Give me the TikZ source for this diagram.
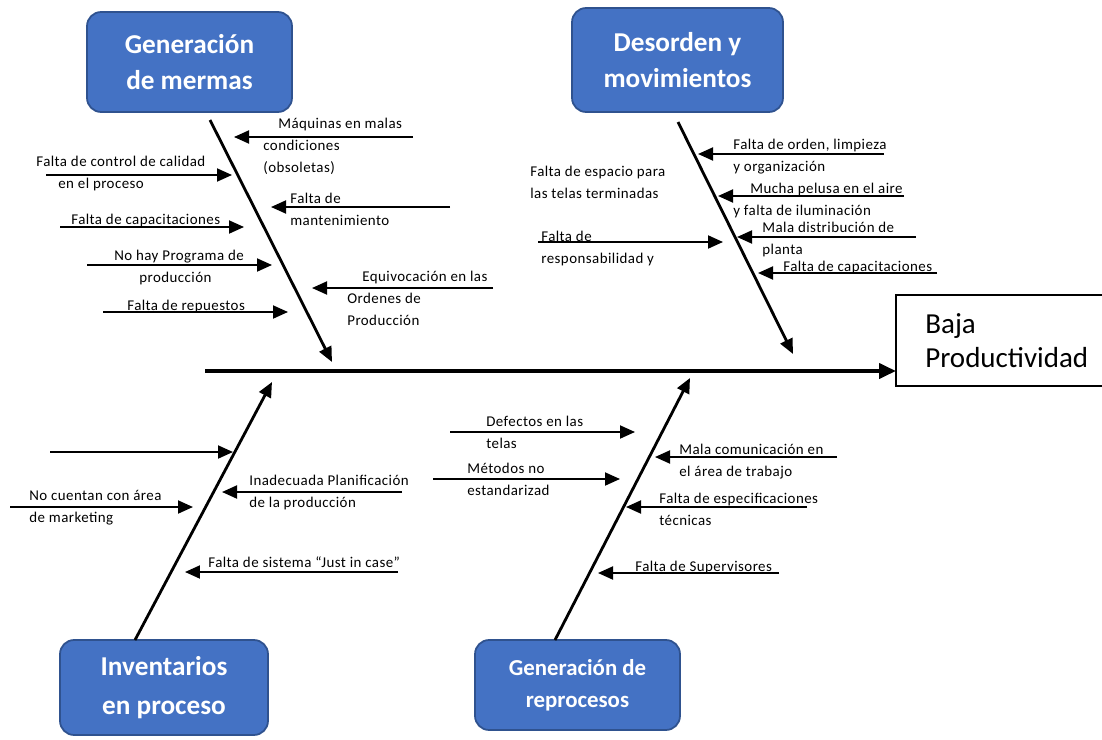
\documentclass[tikz,border=0pt]{standalone}
\usepackage{fontspec}
\setmainfont{Carlito}
\usepackage{tikz}
\usetikzlibrary{arrows.meta,positioning,calc}
\definecolor{catblue}{HTML}{4472C4}
\definecolor{catedge}{HTML}{2F528F}

\begin{document}
\begin{tikzpicture}[
  x=0.02cm, y=-0.02cm,
  catbox/.style={draw=catedge, line width=1pt, fill=catblue, rounded corners=8pt, text=white, align=center, font=\fontsize{15.5}{21}\selectfont\bfseries},
  lbl/.style={anchor=north west, inner sep=0pt, align=left, font=\fontsize{8.5}{12.5}\selectfont\addfontfeature{LetterSpace=3}},
  spine/.style={-{Triangle[length=3.4mm,width=3mm]}, line width=2.2pt},
  bone/.style={-{Triangle[length=3mm,width=2.6mm]}, line width=1.6pt},
  arrow/.style={-{Triangle[length=3mm,width=2.6mm]}, line width=1.1pt}
]
\useasboundingbox (0,0) rectangle (1102,740);
\fill[white] (0,0) rectangle (1102,740);
\node[catbox, minimum width=4.1cm, minimum height=2cm] (mermas) at (189.5,62) {Generación\\de mermas};
\node[catbox, minimum width=4.22cm, minimum height=2.08cm, font=\fontsize{15.5}{20}\selectfont\bfseries] (desorden) at (677.5,60) {Desorden y\\movimientos};
\node[catbox, minimum width=4.16cm, minimum height=1.9cm, font=\fontsize{15.5}{22.5}\selectfont\bfseries] (invent) at (164,687.5) {Inventarios\\en proceso};
\node[catbox, minimum width=4.1cm, minimum height=1.8cm, font=\fontsize{13}{18}\selectfont\bfseries] (reproc) at (577.5,685) {Generación de\\reprocesos};
\node[anchor=north west, minimum height=1.82cm, text width=3.8cm, inner xsep=0.58cm, inner ysep=0pt, align=left, font=\fontsize{16.5}{19.5}\selectfont] (res) at (896,295) {Baja\\Productividad};
\coordinate (rtop) at (1102,295);
\coordinate (rbot) at (1102,386);
\draw[line width=1pt] (rtop) -- (rtop -| res.west) -- (rbot -| res.west) -- (rbot);

\coordinate (sp) at (205,371);
\draw[spine] (sp) -- (sp -| res.west);
\coordinate (b1s) at (210,120); \coordinate (b1e) at (332,362);
\coordinate (b2s) at (678,122); \coordinate (b2e) at (793,354);
\coordinate (b3s) at (135,640); \coordinate (b3e) at (272,382);
\coordinate (b4s) at (555,640); \coordinate (b4e) at (690,378);
\draw[bone] (b1s) -- (b1e);
\draw[bone] (b2s) -- (b2e);
\draw[bone] (b3s) -- (b3e);
\draw[bone] (b4s) -- (b4e);

\node[lbl] (mq) at (263,118) {\hspace*{0.3cm}Máquinas en malas\\condiciones\\(obsoletas)};
\node[lbl] (ctrl) at (36,156) {Falta de control de calidad\\\hspace*{0.44cm}en el proceso};
\node[lbl] (cap) at (71,214) {Falta de capacitaciones};
\node[lbl] (mant) at (290,193) {Falta de\\mantenimiento};
\node[lbl] (prog) at (114,250) {No hay Programa de\\\hspace*{0.5cm}producción};
\node[lbl] (equiv) at (347,271) {\hspace*{0.3cm}Equivocación en las\\Ordenes de\\Producción};
\node[lbl] (rep) at (127,300) {Falta de repuestos};
\coordinate (mqs) at (413,137); \coordinate (mqe) at (234,137);
\coordinate (ctrls) at (46,175); \coordinate (ctrle) at (232,175);
\coordinate (caps) at (60,227); \coordinate (cape) at (244,227);
\coordinate (mants) at (450,207); \coordinate (mante) at (271,207);
\coordinate (progs) at (87,265); \coordinate (proge) at (272,265);
\coordinate (equivs) at (493,288); \coordinate (equive) at (312,288);
\coordinate (reps) at (103,312); \coordinate (repe) at (288,312);
\draw[arrow] (mqs) -- (mqe);
\draw[arrow] (ctrls) -- (ctrle);
\draw[arrow] (caps) -- (cape);
\draw[arrow] (mants) -- (mante);
\draw[arrow] (progs) -- (proge);
\draw[arrow] (equivs) -- (equive);
\draw[arrow] (reps) -- (repe);

\node[lbl] (orden) at (733,139) {Falta de orden, limpieza\\y organización};
\node[lbl] (espacio) at (530,166) {Falta de espacio para\\las telas terminadas};
\node[lbl] (pelusa) at (733,183) {\hspace*{0.34cm}Mucha pelusa en el aire\\y falta de iluminación};
\node[lbl] (distrib) at (762,222) {Mala distribución de\\planta};
\node[lbl] (resp) at (541,231) {Falta de\\responsabilidad y};
\node[lbl] (cap2) at (783,261) {Falta de capacitaciones};
\coordinate (ordens) at (884,154); \coordinate (ordene) at (698,154);
\coordinate (pelusas) at (904,196); \coordinate (pelusae) at (718,196);
\coordinate (distribs) at (916,237); \coordinate (distribe) at (737,237);
\coordinate (resps) at (538,242); \coordinate (respe) at (723,242);
\coordinate (cap2s) at (937,273); \coordinate (cap2e) at (758,273);
\draw[arrow] (ordens) -- (ordene);
\draw[arrow] (pelusas) -- (pelusae);
\draw[arrow] (distribs) -- (distribe);
\draw[arrow] (resps) -- (respe);
\draw[arrow] (cap2s) -- (cap2e);

\node[lbl] (mkt) at (29,490) {No cuentan con área\\de marketing};
\node[lbl] (plan) at (249,475) {Inadecuada Planificación\\de la producción};
\node[lbl] (jic) at (208,556) {Falta de sistema ``Just in case''};
\coordinate (nones) at (50,452); \coordinate (nonee) at (233,452);
\coordinate (mkts) at (10,507); \coordinate (mkte) at (193,507);
\coordinate (plans) at (402,492); \coordinate (plane) at (222,492);
\coordinate (jics) at (398,572); \coordinate (jice) at (185,572);
\draw[arrow] (nones) -- (nonee);
\draw[arrow] (mkts) -- (mkte);
\draw[arrow] (plans) -- (plane);
\draw[arrow] (jics) -- (jice);

\node[lbl] (def) at (486,416) {Defectos en las\\telas};
\node[lbl] (met) at (467,463) {Métodos no\\estandarizad};
\node[lbl] (com) at (679,444) {Mala comunicación en\\el área de trabajo};
\node[lbl] (espec) at (659,493) {Falta de especificaciones\\técnicas};
\node[lbl] (sup) at (635,561) {Falta de Supervisores};
\coordinate (defs) at (450,432); \coordinate (defe) at (635,432);
\coordinate (mets) at (433,479); \coordinate (mete) at (620,479);
\coordinate (coms) at (837,457); \coordinate (come) at (655,457);
\coordinate (specs) at (807,507); \coordinate (spece) at (626,507);
\coordinate (sups) at (779,573); \coordinate (supe) at (598,573);
\draw[arrow] (defs) -- (defe);
\draw[arrow] (mets) -- (mete);
\draw[arrow] (coms) -- (come);
\draw[arrow] (specs) -- (spece);
\draw[arrow] (sups) -- (supe);
\end{tikzpicture}
\end{document}
